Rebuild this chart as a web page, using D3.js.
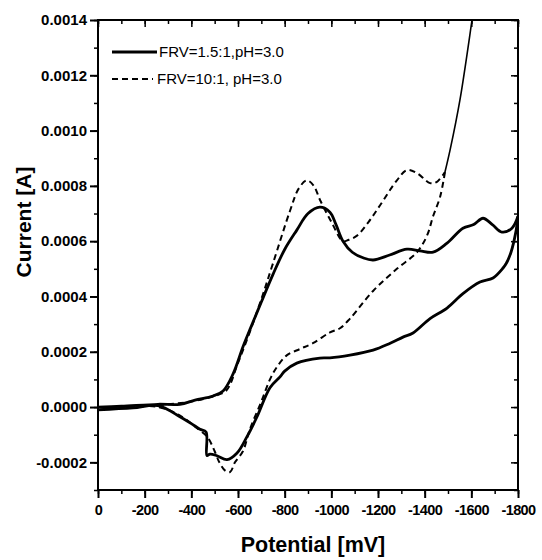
<!DOCTYPE html>
<html>
<head>
<meta charset="utf-8">
<script src="https://cdn.jsdelivr.net/npm/d3@7"></script>
<style>
  body { margin: 0; background: #fff; }
  svg text { font-family: Arial, "Liberation Sans", sans-serif; fill: #000; }
</style>
</head>
<body>
<svg id="chart" width="542" height="560"></svg>
<script>
// ---- data (potential mV, current A) ----
// FRV=1.5:1 — forward scan
const solidFwd = [
  [0, 0], [-100, 0.000003], [-257, 0.00001], [-351, 0.00001], [-416, 0.000025],
  [-493, 0.00004], [-536, 0.000058], [-579, 0.00012], [-621, 0.000217], [-651, 0.00028],
  [-700, 0.00038], [-750, 0.00048], [-800, 0.00057], [-852, 0.00064], [-900, 0.0007],
  [-951, 0.000723], [-994, 0.000705], [-1020, 0.00066], [-1050, 0.0006], [-1090, 0.00056],
  [-1136, 0.00054], [-1179, 0.000532], [-1250, 0.00055], [-1324, 0.000571], [-1380, 0.000565],
  [-1436, 0.00056], [-1496, 0.000593], [-1564, 0.000647], [-1610, 0.00066], [-1650, 0.000683],
  [-1690, 0.00066], [-1731, 0.000633], [-1774, 0.000647], [-1800, 0.00069]
];
// FRV=1.5:1 — reverse scan
const solidRev = [
  [-1800, 0.00069], [-1790, 0.00063], [-1770, 0.00056], [-1750, 0.00052], [-1736, 0.000503],
  [-1693, 0.000467], [-1637, 0.000452], [-1564, 0.00041], [-1496, 0.000358], [-1423, 0.00032],
  [-1350, 0.000268], [-1307, 0.000253], [-1250, 0.00023], [-1179, 0.000206], [-1080, 0.000188],
  [-994, 0.000178], [-951, 0.000177], [-852, 0.000159], [-800, 0.00013], [-780, 0.000109],
  [-737, 0.00007], [-681, -0.000036], [-638, -0.000108], [-596, -0.000166], [-553, -0.00019],
  [-510, -0.000176], [-480, -0.00017], [-467, -0.000175], [-463, -0.00009], [-437, -0.00008],
  [-400, -0.00006], [-351, -0.000035], [-257, 0.000005], [-150, -0.000003], [0, -0.00001]
];
// FRV=10:1 — forward scan
const dashFwd = [
  [0, 0], [-200, 0.000003], [-300, 0.00001], [-400, 0.00002], [-500, 0.00004],
  [-550, 0.00006], [-600, 0.00016], [-650, 0.00027], [-700, 0.00039], [-750, 0.00052],
  [-823, 0.00071], [-860, 0.00079], [-895, 0.00082], [-925, 0.0008], [-951, 0.00075],
  [-1000, 0.00067], [-1050, 0.0006], [-1075, 0.000605], [-1110, 0.00062], [-1160, 0.00067],
  [-1209, 0.00073], [-1281, 0.00082], [-1324, 0.000857], [-1367, 0.000846], [-1423, 0.00081],
  [-1451, 0.000814], [-1487, 0.00085]
];
// FRV=10:1 — vertex (steep rise beyond the axis)
const dashVertex = [
  [-1487, 0.00085], [-1509, 0.00093], [-1551, 0.00111], [-1603, 0.0014], [-1620, 0.0015]
];
// FRV=10:1 — reverse scan
const dashRev = [
  [-1487, 0.00085], [-1466, 0.00076], [-1436, 0.00069], [-1410, 0.00062], [-1367, 0.00056],
  [-1281, 0.0005], [-1179, 0.00042], [-1080, 0.00032], [-1037, 0.000285], [-994, 0.00027],
  [-921, 0.000231], [-866, 0.00021], [-810, 0.000188], [-767, 0.000145], [-737, 0.0001],
  [-700, 0.00002], [-651, -0.00008], [-621, -0.00016], [-587, -0.0002], [-566, -0.000235],
  [-545, -0.00023], [-520, -0.0002], [-500, -0.00016], [-470, -0.00011], [-430, -0.00008],
  [-350, -0.00003], [-260, 0], [-100, 0], [0, -0.00001]
];

const xTicks = [0, -200, -400, -600, -800, -1000, -1200, -1400, -1600, -1800];
const yTicks = [-0.0002, 0, 0.0002, 0.0004, 0.0006, 0.0008, 0.0010, 0.0012, 0.0014];
const legendLabels = ["FRV=1.5:1,pH=3.0", "FRV=10:1, pH=3.0"];

// ---- layout ----
const svg = d3.select("#chart");
const pLeft = 98, pRight = 518, pTop = 20, pBottom = 490;

const x = d3.scaleLinear().domain([0, -1800]).range([pLeft, pRight]);
const y = d3.scaleLinear().domain([-0.0003, 0.0014]).range([pBottom, pTop]);

svg.append("clipPath").attr("id", "plotclip")
  .append("rect").attr("x", pLeft).attr("y", pTop)
  .attr("width", pRight - pLeft).attr("height", pBottom - pTop);

// ---- axes ----
const minorX = d3.range(0, -1801, -100);
const minorY = d3.range(-3, 15).map(k => k * 0.0001);

// bottom (outward ticks)
svg.append("g").attr("transform", `translate(0,${pBottom})`)
  .call(d3.axisBottom(x).tickValues(minorX).tickSize(4).tickFormat(""))
  .call(g => g.select(".domain").remove())
  .selectAll("line").attr("stroke-width", 1.5);
svg.append("g").attr("transform", `translate(0,${pBottom})`)
  .call(d3.axisBottom(x).tickValues(xTicks).tickSize(8).tickPadding(7)
    .tickFormat(d => d === 0 ? "0" : String(d)))
  .call(g => g.select(".domain").remove())
  .call(g => g.selectAll("line").attr("stroke-width", 2))
  .call(g => g.selectAll("text").attr("font-size", 14.5).attr("font-weight", "bold")
    .attr("letter-spacing", "-0.6px"));

// left (outward ticks)
svg.append("g").attr("transform", `translate(${pLeft},0)`)
  .call(d3.axisLeft(y).tickValues(minorY).tickSize(4).tickFormat(""))
  .call(g => g.select(".domain").remove())
  .selectAll("line").attr("stroke-width", 1.5);
svg.append("g").attr("transform", `translate(${pLeft},0)`)
  .call(d3.axisLeft(y).tickValues(yTicks).tickSize(8).tickPadding(3)
    .tickFormat(d => d3.format(".4f")(d).replace("−", "-")))
  .call(g => g.select(".domain").remove())
  .call(g => g.selectAll("line").attr("stroke-width", 2))
  .call(g => g.selectAll("text").attr("font-size", 15).attr("font-weight", "bold"));

// top & right (inward mirrored ticks)
svg.append("g").attr("transform", `translate(0,${pTop})`)
  .call(d3.axisBottom(x).tickValues(minorX).tickSize(4).tickFormat(""))
  .call(g => g.select(".domain").remove())
  .selectAll("line").attr("stroke-width", 1.5);
svg.append("g").attr("transform", `translate(0,${pTop})`)
  .call(d3.axisBottom(x).tickValues(xTicks).tickSize(7).tickFormat(""))
  .call(g => g.select(".domain").remove())
  .selectAll("line").attr("stroke-width", 1.5);
svg.append("g").attr("transform", `translate(${pRight},0)`)
  .call(d3.axisLeft(y).tickValues(minorY).tickSize(4).tickFormat(""))
  .call(g => g.select(".domain").remove())
  .selectAll("line").attr("stroke-width", 1.5);
svg.append("g").attr("transform", `translate(${pRight},0)`)
  .call(d3.axisLeft(y).tickValues(yTicks).tickSize(7).tickFormat(""))
  .call(g => g.select(".domain").remove())
  .selectAll("line").attr("stroke-width", 1.5);

// frame
svg.append("rect")
  .attr("x", pLeft).attr("y", pTop)
  .attr("width", pRight - pLeft).attr("height", pBottom - pTop)
  .attr("fill", "none").attr("stroke", "#000").attr("stroke-width", 2);

// ---- curves ----
const line = d3.line()
  .x(d => x(d[0])).y(d => y(d[1]))
  .curve(d3.curveCatmullRom.alpha(0.5));

const plot = svg.append("g").attr("clip-path", "url(#plotclip)");

[solidFwd, solidRev].forEach(data => {
  plot.append("path").datum(data)
    .attr("d", line).attr("fill", "none")
    .attr("stroke", "#000").attr("stroke-width", 2.8)
    .attr("stroke-linejoin", "round");
});

[dashFwd, dashRev].forEach(data => {
  plot.append("path").datum(data)
    .attr("d", line).attr("fill", "none")
    .attr("stroke", "#000").attr("stroke-width", 2)
    .attr("stroke-dasharray", "6,4");
});

plot.append("path").datum(dashVertex)
  .attr("d", line).attr("fill", "none")
  .attr("stroke", "#000").attr("stroke-width", 1.6);

// ---- legend ----
const legend = svg.append("g");
const legY = [52, 79];
legend.append("line")
  .attr("x1", 112).attr("x2", 157).attr("y1", legY[0]).attr("y2", legY[0])
  .attr("stroke", "#000").attr("stroke-width", 2.8);
legend.append("line")
  .attr("x1", 112).attr("x2", 153).attr("y1", legY[1]).attr("y2", legY[1])
  .attr("stroke", "#000").attr("stroke-width", 2).attr("stroke-dasharray", "6,4");
legend.selectAll("text.leg").data(legendLabels).enter()
  .append("text").attr("class", "leg")
  .attr("x", (d, i) => i === 0 ? 159 : 157)
  .attr("y", (d, i) => legY[i] + 5)
  .attr("font-size", 15)
  .text(d => d);

// ---- axis titles ----
svg.append("text")
  .attr("x", (pLeft + pRight) / 2 + 5).attr("y", 552)
  .attr("text-anchor", "middle")
  .attr("font-size", 21.5).attr("font-weight", "bold")
  .text("Potential [mV]");

svg.append("text")
  .attr("transform", "translate(31,222) rotate(-90)")
  .attr("text-anchor", "middle")
  .attr("font-size", 21).attr("font-weight", "bold")
  .text("Current [A]");
</script>
</body>
</html>
